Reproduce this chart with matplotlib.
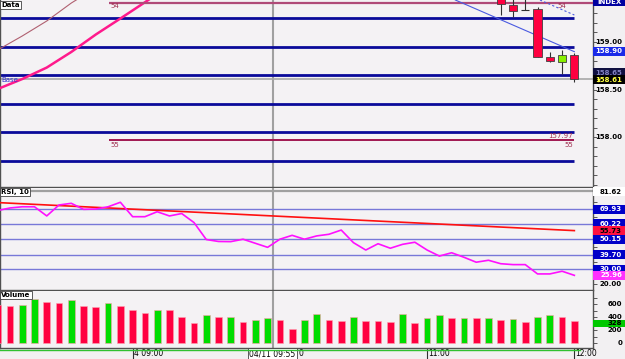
import numpy as np
import matplotlib
matplotlib.use('Agg')
import matplotlib.pyplot as plt
from matplotlib.patches import Rectangle
from matplotlib.lines import Line2D

W, H = 625, 359

# ---- data (bar index 0..47, 5-minute bars) ----
bars = np.arange(48)
volume = [590, 569, 589, 682, 630, 615, 666, 579, 554, 625, 579,
          508, 466, 512, 508, 400, 308, 435, 410, 410, 333,
          364, 385, 364, 220, 364, 446,
          358, 343, 410, 348, 338, 328, 446, 317, 394, 435,
          385, 394, 389, 389, 358, 379, 328, 400, 435, 410, 338]
vol_dir = "RRGGRRGRRGRRRGRRRGRGRGGRRGGRRGRRRGRGGRGRGRGRGGRR"

rsi = [69.1, 70.8, 71.6, 71.6, 65.5, 72.8, 73.9, 69.9, 70.1, 71.6,
       74.6, 65.0, 65.0, 68.3, 65.5, 67.1, 61.1, 49.8, 48.5, 48.4,
       50.0, 47.3, 44.6, 50.0, 52.6, 50.0, 52.2, 53.3, 56.1, 47.7,
       42.8, 47.0, 44.0, 46.6, 48.0, 42.8, 38.8, 41.0, 38.0, 34.7,
       36.0, 33.7, 33.1, 33.1, 26.9, 26.9, 28.7, 25.96]
rsi_reg_x = [0, 47]
rsi_reg_y = [74.4, 55.73]
rsi_levels = [69.93, 60.22, 50.15, 39.70, 30.00]

candle_idx = [41, 42, 43, 44, 45, 46, 47]
c_open = [159.47, 159.389, 159.337, 159.344, 158.845, 158.786, 158.863]
c_high = [159.50, 159.45, 159.45, 159.365, 158.898, 158.916, 158.887]
c_low = [159.284, 159.266, 159.337, 158.839, 158.786, 158.663, 158.582]
c_close = [159.397, 159.329, 159.337, 158.839, 158.800, 158.863, 158.607]

price_levels = [159.25, 158.95, 158.65, 158.35, 158.05, 157.75]
curve_x = [0, 2, 4, 6, 8, 10, 12, 13]
curve_y = [158.505, 158.61, 158.731, 158.895, 159.079, 159.247, 159.418, 159.505]
thin_x = [0, 2, 4, 6, 7]
thin_y = [158.916, 159.063, 159.221, 159.41, 159.49]
trend_x = [37.3, 47.0]
trend_y = [159.442, 158.898]
trend2_x = [44.2, 47.0]
trend2_y = [159.442, 159.284]
line54 = 159.414
line55 = 157.968
cross_x = 22.4
cross_price = 158.607

bg = '#f4f2f4'
fig = plt.figure(figsize=(W / 100, H / 100), dpi=100, facecolor='#f2f0f2')


def box(x0, y0, x1, y1):
    return [x0 / W, 1 - y1 / H, (x1 - x0) / W, (y1 - y0) / H]


ax1 = fig.add_axes(box(0, 0, 593, 187))
ax2 = fig.add_axes(box(0, 188, 593, 290))
ax3 = fig.add_axes(box(0, 291, 593, 348))

ax1.set_ylim(157.474, 159.442)
ax2.set_ylim(16.2, 84.1)
ax3.set_ylim(-72, 805)

for ax in (ax1, ax2, ax3):
    ax.set_facecolor(bg)
    ax.set_xlim(0.19, 48.52)
    ax.set_xticks([])
    for s in ax.spines.values():
        s.set_color('#505050')
        s.set_linewidth(1)
    ax.spines['top'].set_visible(False)
    ax.yaxis.tick_right()
    ax.tick_params(axis='y', direction='out', length=3, width=0.6,
                   colors='#404040', labelright=False)
    ax.axvline(cross_x, color='#a0a0a0', lw=1.5, zorder=1)

ax1.set_yticks(np.arange(157.5, 159.45, 0.1))
ax2.set_yticks(np.arange(20, 84, 5))
ax3.set_yticks(np.arange(0, 800, 100))


def tag(ax, y, s, fc, tc, px_h=9, z=5):
    y0, y1 = ax.get_ylim()
    h = px_h * (y1 - y0) / (ax.get_position().height * H)
    tr = ax.get_yaxis_transform()
    if fc is not None:
        ax.add_patch(Rectangle((1.0, y - h / 2), 32 / 593, h, transform=tr,
                               fc=fc, ec='none', clip_on=False, zorder=z))
    ax.text(1.0 + 29 / 593, y, s, transform=tr, ha='right', va='center',
            fontsize=5, fontweight='bold', color=tc, clip_on=False, zorder=z + 0.5)


def title_box(ax, s):
    ax.text(0.002, 0.99, s, transform=ax.transAxes, ha='left', va='top',
            fontsize=5, fontweight='bold', color='black', zorder=6,
            bbox=dict(boxstyle='square,pad=0.15', fc='white', ec='#404040', lw=0.6))


# ---- price panel ----
ax1.hlines(price_levels, -1, 47.0, color='#0a0a9a', lw=2, zorder=2)
ax1.axhline(cross_price, color='#a8a8a8', lw=1.2, zorder=1)
ax1.plot(curve_x, curve_y, color='#ff1a8c', lw=1.8, zorder=3)
ax1.plot(thin_x, thin_y, color='#b06070', lw=0.8, zorder=3)
ax1.hlines(line54, 9.05, 48.5, color='#b04a78', lw=1.6, zorder=3)
ax1.hlines(line55, 9.05, 47.0, color='#a01850', lw=1.4, zorder=3)
ax1.plot(trend_x, trend_y, color='#4a5ae0', lw=0.8, zorder=3)
ax1.plot(trend2_x, trend2_y, color='#4a5ae0', lw=0.8, ls=(0, (2, 2)), zorder=3)
ax1.text(9.2, line54 - 0.035, '54', fontsize=5, color='#a03050', va='center')
ax1.text(45.6, line54 - 0.035, '54', fontsize=5, color='#a03050', va='center')
ax1.text(9.2, line55 - 0.05, '55', fontsize=5, color='#a03050', va='center')
ax1.text(46.9, line55 + 0.045, '157.97', fontsize=5, color='#a03050', va='center', ha='right')
ax1.text(46.9, line55 - 0.05, '55', fontsize=5, color='#a03050', va='center', ha='right')
ax1.text(0.3, 158.60, 'Base', fontsize=5, color='#3030d0', va='center')

for i, o, hi, lo, c in zip(candle_idx, c_open, c_high, c_low, c_close):
    ax1.vlines(i, lo, hi, color='#303030', lw=0.8, zorder=4)
    if abs(c - o) < 0.002:
        ax1.hlines(o, i - 0.33, i + 0.33, color='#303030', lw=0.8, zorder=4)
    else:
        col = '#ff0040' if c < o else '#88f000'
        ax1.add_patch(Rectangle((i - 0.33, min(o, c)), 0.66, abs(c - o),
                                fc=col, ec='#404040', lw=0.6, zorder=5))

title_box(ax1, 'Data')
tag(ax1, 159.425, 'INDEX', '#0000a0', 'white')
for v in [159.00, 158.50, 158.00]:
    tag(ax1, v, '%.2f' % v, None, 'black')
tag(ax1, 158.905, '158.90', '#1a2ae8', 'white')
# dark tag sits mostly hidden under the last-price tag, as in the original
tag(ax1, 158.675, '158.65', '#101040', '#8080c0', z=5)
tag(ax1, 158.605, '158.61', '#000000', '#ffff40', z=7)
ax1.text(1.0 + 4 / 593, 158.605, '\u25bc', transform=ax1.get_yaxis_transform(),
         fontsize=3.5, color='#ffff40', va='center', clip_on=False, zorder=8)

# ---- RSI panel ----
ax2.axhline(82.1, color='#a0a0a0', lw=1.6, zorder=1)
ax2.hlines(rsi_levels, -1, 49, color='#7878d8', lw=1, zorder=2)
ax2.plot(rsi_reg_x, rsi_reg_y, color='#ff1010', lw=1.2, zorder=3)
ax2.plot(bars, rsi, color='#ff10ff', lw=1.2, zorder=4)
title_box(ax2, 'RSI, 10')
tag(ax2, 81.62, '81.62', 'white', 'black')
for v in rsi_levels:
    tag(ax2, v, '%.2f' % v, '#0000c8', 'white')
tag(ax2, 55.73, '55.73', '#ff1040', 'black', z=7)
tag(ax2, 25.96, '25.96', '#ff30ff', 'white', z=7)
tag(ax2, 20.00, '20.00', None, 'black')

# ---- volume panel ----
vcols = ['#ff0040' if d == 'R' else '#00dd00' for d in vol_dir]
ax3.bar(bars, volume, width=0.55, color=vcols, edgecolor='#ffa0b0', lw=0.4, zorder=3)
title_box(ax3, 'Volume')
for v in [600, 400, 200, 0]:
    tag(ax3, v, str(v), None, 'black')
tag(ax3, 310, '328', '#00c800', 'black', px_h=7, z=7)
fig.add_artist(Line2D([0, 580 / W], [1 - 349.5 / H] * 2, color='#30c030', lw=1))

# ---- time axis ----
xtr = ax3.get_xaxis_transform()
for i, s in [(11.03, '4 09:00'), (35.0, '11:00'), (47.0, '12:00')]:
    ax3.plot([i, i], [-0.02, -0.2], color='#303030', lw=0.8, transform=xtr, clip_on=False)
    ax3.text(i + 0.1, -0.105, s, transform=xtr, fontsize=5.5, va='center',
             ha='left', color='black', clip_on=False)
# the crosshair box hides most of the 10:00 label, only its last digit shows
ax3.text(24.5, -0.105, '0', transform=xtr, fontsize=5.5, va='center',
         ha='left', color='black', clip_on=False)
ax3.text(cross_x, -0.105, '04/11 09:55', transform=xtr, fontsize=5.5, va='center',
         ha='center', color='black', clip_on=False, zorder=10,
         bbox=dict(boxstyle='square,pad=0.2', fc='white', ec='#404040', lw=0.6))

fig.savefig('out.png', dpi=100, facecolor=fig.get_facecolor())
